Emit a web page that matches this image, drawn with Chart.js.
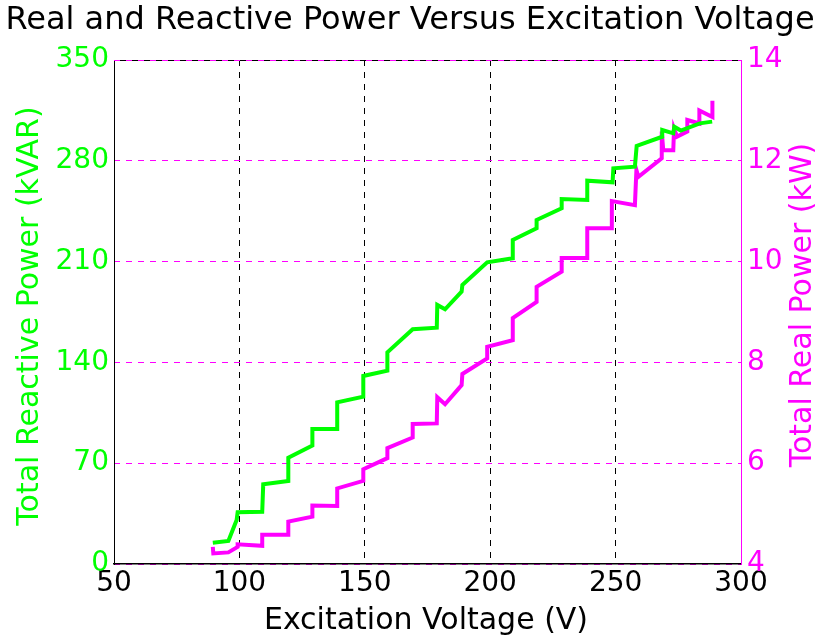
<!DOCTYPE html>
<html>
<head>
<meta charset="utf-8">
<script src="https://cdn.jsdelivr.net/npm/chart.js@4"></script>
<style>
html,body{margin:0;padding:0;background:#fff;}
#wrap{width:818px;height:643px;}
</style>
</head>
<body>
<div id="wrap"><canvas id="c" width="818" height="643"></canvas></div>
<script>
const chartTitle = "Real and Reactive Power Versus Excitation Voltage";
const xTitle = "Excitation Voltage (V)";
const leftTitle = "Total Reactive Power (kVAR)";
const rightTitle = "Total Real Power (kW)";

const reactiveX = [89.4,95.6,98.9,99.3,109.1,109.5,119.5,119.5,129.1,129.1,139.0,139.0,149.4,149.4,159.0,159.0,169.1,178.7,178.9,182.0,188.6,188.9,198.8,209.0,209.0,218.5,218.5,228.5,228.5,238.7,238.7,248.8,249.1,257.7,258.4,268.6,268.6,273.0,273.4,276.0,283.6,288.5];
const reactiveY = [14.8,16.0,30.5,35.9,36.3,55.3,57.6,73.8,82.2,93.8,93.8,112.3,116.2,130.6,134.2,147.0,163.0,164.1,179.9,176.9,189.1,193.8,209.5,212.3,225.0,233.1,238.9,247.0,253.5,252.8,266.2,265.1,274.8,275.9,290.3,296.7,301.4,299.1,303.7,301.0,306.0,307.2];

const realX = [89.4,89.6,95.6,99.3,99.3,109.1,109.1,119.5,119.5,129.1,129.1,139.0,139.0,149.4,149.4,159.0,159.0,169.1,169.1,178.7,178.9,182.0,188.6,188.9,198.8,198.8,209.0,209.0,218.5,218.5,228.5,228.5,238.7,238.7,248.5,248.5,257.7,258.3,259.1,268.4,268.4,269.0,273.0,273.3,274.5,278.6,278.6,283.4,283.4,288.6,288.6];
const realY = [4.34,4.21,4.23,4.34,4.39,4.36,4.58,4.58,4.84,4.94,5.16,5.15,5.50,5.65,5.88,6.10,6.30,6.51,6.78,6.79,7.31,7.17,7.55,7.77,8.08,8.31,8.44,8.88,9.20,9.50,9.80,10.07,10.07,10.66,10.66,11.20,11.12,11.82,11.68,12.05,12.58,12.21,12.21,12.64,12.48,12.58,12.81,12.74,13.00,12.87,13.19];

const xTicks = [50,100,150,200,250,300];
const leftTicks = [0,70,140,210,280,350];
const rightTicks = [4,6,8,10,12,14];

const GREEN = "#00ff00";
const MAGENTA = "#ff00ff";
const FONT = "'DejaVu Sans', sans-serif";

function pts(xs, ys){ return xs.map((x,i)=>({x:x, y:ys[i]})); }

const overlay = {
  id: 'overlay',
  beforeDatasetsDraw(chart){
    const ctx = chart.ctx;
    const a = chart.chartArea;
    ctx.save();
    ctx.strokeStyle = '#000';
    ctx.lineWidth = 1;
    ctx.beginPath();
    ctx.moveTo(a.left, a.top + 0.5);
    ctx.lineTo(a.right, a.top + 0.5);
    ctx.stroke();
    ctx.strokeStyle = MAGENTA;
    ctx.setLineDash([6,6]);
    ctx.beginPath();
    ctx.moveTo(a.left, a.top + 0.5);
    ctx.lineTo(a.right, a.top + 0.5);
    ctx.stroke();
    ctx.setLineDash([]);
    ctx.strokeStyle = MAGENTA;
    ctx.beginPath();
    ctx.moveTo(a.right + 0.5, a.top);
    ctx.lineTo(a.right + 0.5, a.bottom);
    ctx.stroke();
    ctx.restore();
  },
  afterDraw(chart){
    const ctx = chart.ctx;
    ctx.save();
    ctx.fillStyle = '#000';
    ctx.font = "32px " + FONT;
    ctx.textAlign = 'center';
    ctx.textBaseline = 'middle';
    ctx.fillText(chartTitle, 410, 21);
    ctx.font = "30px " + FONT;
    ctx.fillText(xTitle, 426, 621);
    ctx.fillStyle = GREEN;
    ctx.translate(30, 316);
    ctx.rotate(-Math.PI/2);
    ctx.fillText(leftTitle, 0, 0);
    ctx.restore();
    ctx.save();
    ctx.fillStyle = MAGENTA;
    ctx.font = "30px " + FONT;
    ctx.textAlign = 'center';
    ctx.textBaseline = 'middle';
    ctx.translate(803, 305);
    ctx.rotate(-Math.PI/2);
    ctx.fillText(rightTitle, 0, 0);
    ctx.restore();
  }
};

new Chart(document.getElementById('c'), {
  type: 'line',
  data: {
    datasets: [
      { label: 'Reactive', data: pts(reactiveX, reactiveY), yAxisID: 'yL', borderColor: GREEN, borderWidth: 4, pointRadius: 0, tension: 0, fill: false },
      { label: 'Real', data: pts(realX, realY), yAxisID: 'yR', borderColor: MAGENTA, borderWidth: 4, pointRadius: 0, tension: 0, fill: false }
    ]
  },
  options: {
    responsive: false,
    animation: false,
    layout: { padding: { top: 60, left: 0, right: 0, bottom: 0 } },
    plugins: { legend: { display: false }, tooltip: { enabled: false }, title: { display: false } },
    scales: {
      x: {
        type: 'linear', min: 50, max: 300,
        afterBuildTicks(s){ s.ticks = xTicks.map(v=>({value:v})); },
        afterFit(s){ s.height = 79; },
        ticks: { color: '#000', font: { size: 28, family: FONT }, padding: 3, maxRotation: 0 },
        grid: { color: '#000', lineWidth: 1, drawTicks: false },
        border: { display: true, color: '#000', width: 1.5, dash: [6,6] }
      },
      yL: {
        type: 'linear', position: 'left', min: 0, max: 350,
        afterBuildTicks(s){ s.ticks = leftTicks.map(v=>({value:v})); },
        afterFit(s){ s.width = 114; },
        ticks: { color: GREEN, font: { size: 28, family: FONT }, padding: 5 },
        grid: { display: false, drawTicks: false },
        border: { display: true, color: '#000', width: 1 }
      },
      yR: {
        type: 'linear', position: 'right', min: 4, max: 14,
        afterBuildTicks(s){ s.ticks = rightTicks.map(v=>({value:v})); },
        afterFit(s){ s.width = 77; },
        ticks: { color: MAGENTA, font: { size: 28, family: FONT }, padding: 6 },
        grid: { color: MAGENTA, lineWidth: 1, drawTicks: false },
        border: { display: true, color: MAGENTA, width: 1, dash: [6,6] }
      }
    }
  },
  plugins: [overlay]
});
</script>
</body>
</html>
